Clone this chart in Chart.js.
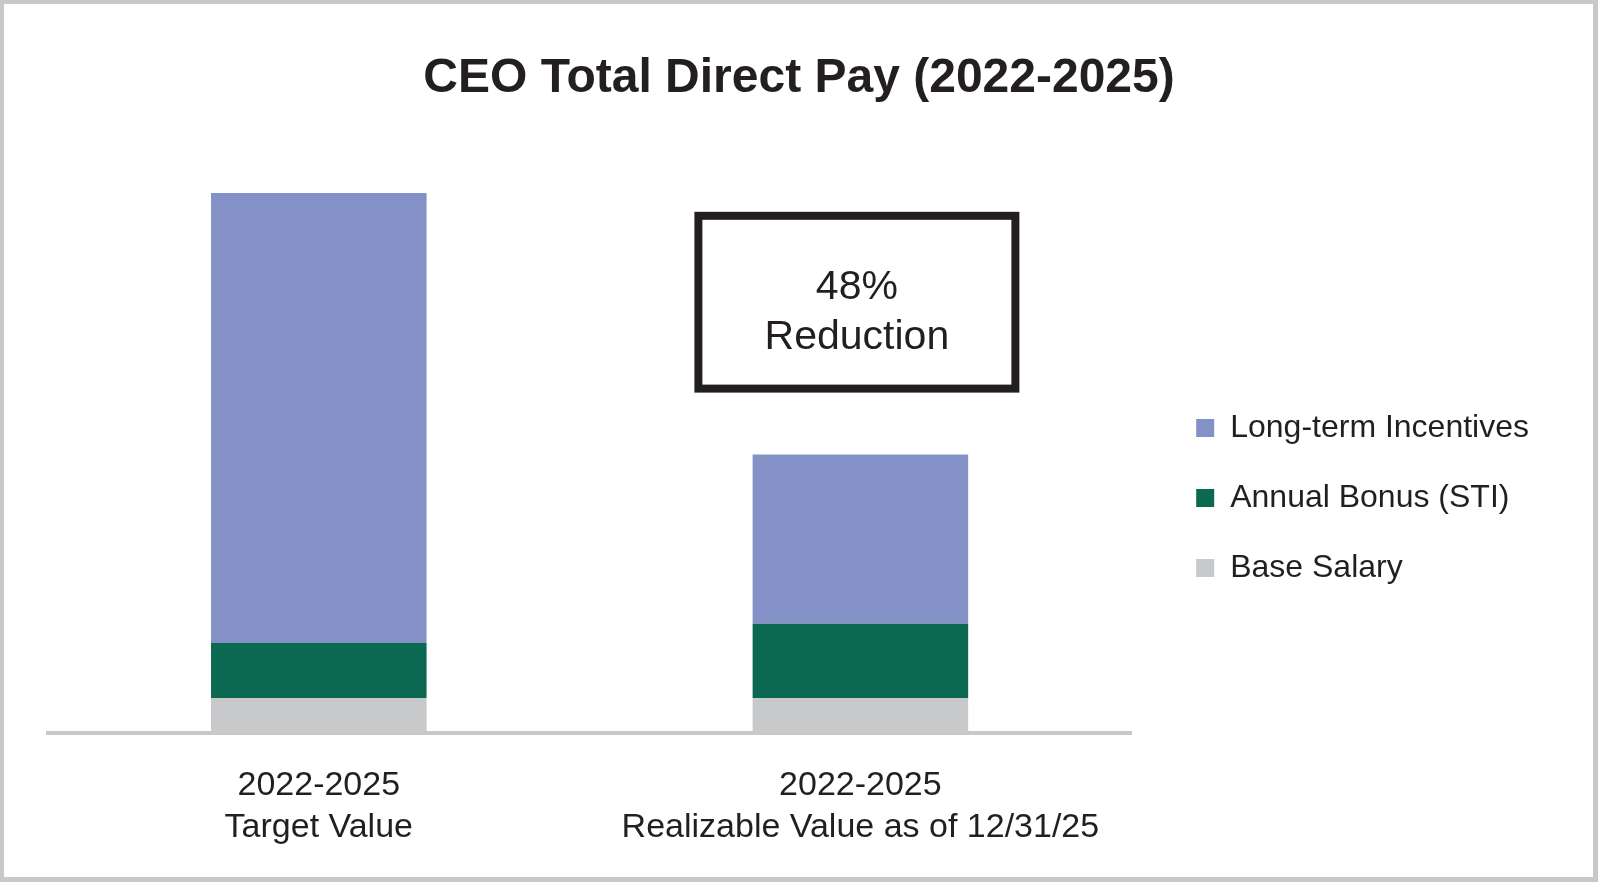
<!DOCTYPE html>
<html>
<head>
<meta charset="utf-8">
<script src="https://cdn.jsdelivr.net/npm/chart.js@4"></script>
<style>
  html, body { margin: 0; padding: 0; background: #ffffff; }
  #wrap { width: 1598px; height: 882px; position: relative; }
  canvas { display: block; }
</style>
</head>
<body>
<div id="wrap"><canvas id="c" width="1598" height="882"></canvas></div>
<script>
// ---- data ----
const categories = [["2022-2025", "Target Value"], ["2022-2025", "Realizable Value as of 12/31/25"]];
const seriesNames = ["Base Salary", "Annual Bonus (STI)", "Long-term Incentives"];
const baseSalary = [2.9, 2.9];
const annualBonus = [4.6, 6.2];
const longTermIncentives = [37.5, 14.1];
const chartTitle = "CEO Total Direct Pay (2022-2025)";
const calloutLines = ["48%", "Reduction"];

const FONT = "'Liberation Sans', Arial, Helvetica, sans-serif";
const colors = { lti: "#8491c6", bonus: "#0b6851", base: "#c8c9cb" };

// frame around the picture
const framePlugin = {
  id: 'frame',
  afterDraw(chart) {
    const ctx = chart.ctx, w = chart.width, h = chart.height;
    ctx.save();
    ctx.fillStyle = '#c8c8c8';
    ctx.fillRect(0, 0, w, 4);
    ctx.fillRect(0, 0, 4, h);
    ctx.fillRect(w - 5, 0, 5, h);
    ctx.fillRect(0, h - 5, w, 5);
    ctx.restore();
  }
};

// callout box anchored to the second category
const calloutPlugin = {
  id: 'callout',
  afterDatasetsDraw(chart) {
    const x = chart.scales.x, y = chart.scales.y, ctx = chart.ctx;
    const cx = x.getPixelForValue(1) - 3.5;
    const top = y.getPixelForValue(43.1);
    const bottom = y.getPixelForValue(28.7);
    const halfW = 158.5;
    ctx.save();
    ctx.strokeStyle = '#231f20';
    ctx.lineWidth = 8;
    ctx.strokeRect(cx - halfW, top, halfW * 2, bottom - top);
    ctx.fillStyle = '#231f20';
    ctx.font = '41px ' + FONT;
    ctx.textAlign = 'center';
    ctx.textBaseline = 'middle';
    const mid = (top + bottom) / 2;
    ctx.fillText(calloutLines[0], cx, mid - 15);
    ctx.fillText(calloutLines[1], cx, mid + 35);
    ctx.restore();
  }
};

// invisible spacer axes (display:false so they don't limit the legend width)
const spacer = (w, pos, weight) => ({
  type: 'linear', position: pos, weight: weight, display: false,
  afterFit(s) { s.width = w; }
});

new Chart(document.getElementById('c'), {
  type: 'bar',
  data: {
    labels: categories,
    datasets: [
      { label: seriesNames[0], data: baseSalary, backgroundColor: colors.base },
      { label: seriesNames[1], data: annualBonus, backgroundColor: colors.bonus },
      { label: seriesNames[2], data: longTermIncentives, backgroundColor: colors.lti }
    ]
  },
  options: {
    responsive: false,
    animation: false,
    devicePixelRatio: 1,
    layout: { padding: { left: 0, right: 0, top: 0, bottom: 2 } },
    datasets: { bar: { categoryPercentage: 1, barPercentage: 0.398, borderWidth: 0 } },
    scales: {
      x: {
        stacked: true,
        grid: { display: false, drawTicks: false },
        border: { display: true, color: '#c8c8c8', width: 4 },
        ticks: { color: '#231f20', padding: 32, maxRotation: 0, autoSkip: false,
                 font: { family: FONT, size: 34, lineHeight: 1.22 } }
      },
      y: {
        stacked: true, display: false, min: 0, max: 50
      },
      padL: spacer(48, 'left', 0),
      gapR: spacer(27, 'right', 0),
      padR: spacer(59, 'right', 2000)
    },
    plugins: {
      tooltip: { enabled: false },
      title: {
        display: true, text: chartTitle, color: '#231f20',
        font: { family: FONT, size: 48, weight: 'bold', lineHeight: 1.2 },
        padding: { top: 50, bottom: 25.4 }
      },
      legend: {
        position: 'right',
        reverse: true,
        title: { display: true, text: '', font: { size: 10, lineHeight: 1 }, padding: { top: 106, bottom: 0 } },
        labels: {
          color: '#231f20', boxWidth: 18, boxHeight: 18, padding: 38,
          font: { family: FONT, size: 32 }
        }
      }
    }
  },
  plugins: [calloutPlugin, framePlugin]
});
</script>
</body>
</html>
